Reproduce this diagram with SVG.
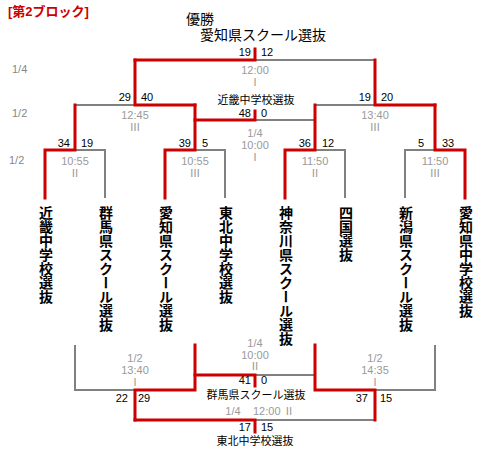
<svg xmlns="http://www.w3.org/2000/svg" width="500" height="450" viewBox="0 0 500 450">
<style>
.r{fill:none;stroke:#cc0000;stroke-width:3;stroke-linecap:square;stroke-linejoin:miter}
.g{fill:none;stroke:#808080;stroke-width:2;stroke-linecap:butt;stroke-linejoin:miter}
text{font-family:'Liberation Sans','Noto Sans CJK JP',sans-serif}
.sc{font-size:11px;fill:#000}
.scl{font-size:11px;fill:#000;text-anchor:end}
.tm{font-size:11px;fill:#999;text-anchor:middle}
.rn{font-size:11px;fill:#999;text-anchor:middle}
.rd{font-size:11px;fill:#888}
.lb{font-size:11px;fill:#000;text-anchor:middle;font-family:'Noto Sans CJK JP',sans-serif}
.team{font-size:14px;font-weight:bold;fill:#000;writing-mode:vertical-rl;font-family:'Noto Sans CJK JP',sans-serif}
</style>
<rect width="500" height="450" fill="#fff"/>
<text x="8" y="16" font-size="13" font-weight="bold" fill="#cc0000">[第2ブロック]</text>
<text x="186" y="24" font-size="14" fill="#000" font-family="'Noto Sans CJK JP',sans-serif">優勝</text>
<text x="200" y="40" font-size="14" fill="#000" font-family="'Noto Sans CJK JP',sans-serif">愛知県スクール選抜</text>
<g id="rounds">
<text class="rd" x="12" y="73">1/4</text>
<text class="rd" x="12" y="117">1/2</text>
<text class="rd" x="9" y="164">1/2</text>
</g>
<g id="connectors">
<polyline class="g" points="75,150 105,150 105,198"/>
<polyline class="g" points="195,150 225,150 225,198"/>
<polyline class="g" points="315,150 345,150 345,198"/>
<polyline class="g" points="405,198 405,150 435,150"/>
<polyline class="g" points="75,105 135,105"/>
<polyline class="g" points="315,105 375,105"/>
<polyline class="g" points="255,60 375,60"/>
<polyline class="g" points="255,120 315,120"/>
<polyline class="g" points="75,345 75,390 135,390"/>
<polyline class="g" points="435,345 435,390 375,390"/>
<polyline class="g" points="255,375 315,375"/>
<polyline class="g" points="255,420 375,420"/>
<polyline class="r" points="45,198 45,150 75,150 75,105"/>
<polyline class="r" points="165,198 165,150 195,150 195,105"/>
<polyline class="r" points="285,198 285,150 315,150 315,105"/>
<polyline class="r" points="465,198 465,150 435,150 435,105"/>
<polyline class="r" points="195,105 135,105 135,60"/>
<polyline class="r" points="435,105 375,105 375,60"/>
<polyline class="r" points="135,60 255,60 255,49"/>
<polyline class="r" points="195,120 255,120 255,111"/>
<polyline class="r" points="195,345 195,390 135,390 135,420"/>
<polyline class="r" points="315,345 315,390 375,390 375,420"/>
<polyline class="r" points="195,375 255,375 255,386"/>
<polyline class="r" points="135,420 255,420 255,432"/>
</g>
<g id="final">
<text class="scl" x="251" y="56">19</text><text class="sc" x="261" y="56">12</text>
<text class="tm" x="255" y="74">12:00</text><text class="rn" x="255" y="86">Ⅰ</text>
</g>
<g id="m1245">
<text class="scl" x="131" y="101">29</text><text class="sc" x="141" y="101">40</text>
<text class="tm" x="135" y="119">12:45</text><text class="rn" x="135" y="131">Ⅲ</text>
</g>
<g id="m1340">
<text class="scl" x="371" y="101">19</text><text class="sc" x="381" y="101">20</text>
<text class="tm" x="375" y="119">13:40</text><text class="rn" x="375" y="131">Ⅲ</text>
</g>
<g id="m1000a">
<text class="lb" x="256" y="104">近畿中学校選抜</text>
<text class="scl" x="251" y="117">48</text><text class="sc" x="261" y="117">0</text>
<text class="tm" x="255" y="137">1/4</text><text class="tm" x="255" y="149">10:00</text><text class="rn" x="255" y="161">Ⅰ</text>
</g>
<g id="m1055a">
<text class="scl" x="70" y="147">34</text><text class="sc" x="81" y="147">19</text>
<text class="tm" x="75" y="165">10:55</text><text class="rn" x="75" y="177">Ⅱ</text>
</g>
<g id="m1055b">
<text class="scl" x="191" y="147">39</text><text class="sc" x="202" y="147">5</text>
<text class="tm" x="195" y="165">10:55</text><text class="rn" x="195" y="177">Ⅲ</text>
</g>
<g id="m1150a">
<text class="scl" x="311" y="147">36</text><text class="sc" x="322" y="147">12</text>
<text class="tm" x="315" y="165">11:50</text><text class="rn" x="315" y="177">Ⅱ</text>
</g>
<g id="m1150b">
<text class="scl" x="424" y="147">5</text><text class="sc" x="442" y="147">33</text>
<text class="tm" x="435" y="165">11:50</text><text class="rn" x="435" y="177">Ⅲ</text>
</g>
<g id="team1"><text class="team" x="46" y="206">近畿中学校選抜</text></g>
<g id="team2"><text class="team" x="106" y="206">群馬県スクール選抜</text></g>
<g id="team3"><text class="team" x="166" y="206">愛知県スクール選抜</text></g>
<g id="team4"><text class="team" x="226" y="206">東北中学校選抜</text></g>
<g id="team5"><text class="team" x="286" y="206">神奈川県スクール選抜</text></g>
<g id="team6"><text class="team" x="346" y="206">四国選抜</text></g>
<g id="team7"><text class="team" x="406" y="206">新潟県スクール選抜</text></g>
<g id="team8"><text class="team" x="466" y="206">愛知県中学校選抜</text></g>
<g id="b1000">
<text class="tm" x="255" y="347">1/4</text><text class="tm" x="255" y="359">10:00</text><text class="rn" x="255" y="370">Ⅱ</text>
<text class="scl" x="251" y="384">41</text><text class="sc" x="261" y="384">0</text>
<text class="lb" x="256" y="399">群馬県スクール選抜</text>
</g>
<g id="b1340">
<text class="tm" x="135" y="362">1/2</text><text class="tm" x="135" y="374">13:40</text><text class="rn" x="135" y="386">Ⅰ</text>
<text class="scl" x="128" y="402">22</text><text class="sc" x="138" y="402">29</text>
</g>
<g id="b1435">
<text class="tm" x="375" y="362">1/2</text><text class="tm" x="375" y="374">14:35</text><text class="rn" x="375" y="386">Ⅰ</text>
<text class="scl" x="368" y="402">37</text><text class="sc" x="380" y="402">15</text>
</g>
<g id="b1200">
<text class="tm" x="233" y="415">1/4</text><text x="253" y="415" font-size="11" fill="#999">12:00 Ⅱ</text>
<text class="scl" x="251" y="431">17</text><text class="sc" x="261" y="431">15</text>
<text class="lb" x="255" y="445">東北中学校選抜</text>
</g>
</svg>
